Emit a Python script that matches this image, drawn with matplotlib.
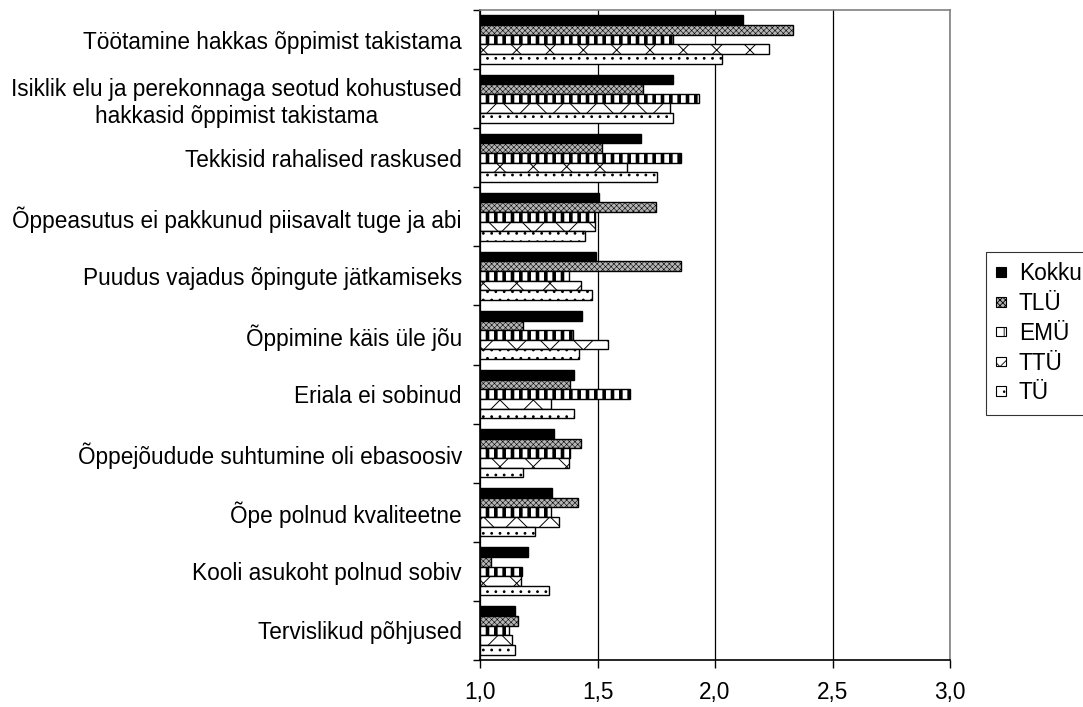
import numpy as np
import matplotlib
matplotlib.use("Agg")
import matplotlib.pyplot as plt
from matplotlib.patches import Patch

plt.rcParams["font.family"] = ["Liberation Sans", "DejaVu Sans"]
plt.rcParams["font.size"] = 16.3

categories = [
    "Töötamine hakkas õppimist takistama",
    "Isiklik elu ja perekonnaga seotud kohustused\nhakkasid õppimist takistama",
    "Tekkisid rahalised raskused",
    "Õppeasutus ei pakkunud piisavalt tuge ja abi",
    "Puudus vajadus õpingute jätkamiseks",
    "Õppimine käis üle jõu",
    "Eriala ei sobinud",
    "Õppejõudude suhtumine oli ebasoosiv",
    "Õpe polnud kvaliteetne",
    "Kooli asukoht polnud sobiv",
    "Tervislikud põhjused",
]
series = ["Kokku", "TLÜ", "EMÜ", "TTÜ", "TÜ"]

kokku = [2.12, 1.82, 1.685, 1.505, 1.495, 1.435, 1.40, 1.315, 1.305, 1.205, 1.15]
tlu = [2.33, 1.695, 1.52, 1.75, 1.855, 1.185, 1.385, 1.43, 1.415, 1.045, 1.16]
emu = [1.82, 1.93, 1.855, 1.49, 1.38, 1.395, 1.64, 1.385, 1.30, 1.18, 1.125]
ttu = [2.23, 1.81, 1.625, 1.49, 1.43, 1.545, 1.30, 1.38, 1.335, 1.175, 1.135]
tu = [2.03, 1.82, 1.755, 1.445, 1.475, 1.42, 1.40, 1.185, 1.235, 1.295, 1.15]
values = [kokku, tlu, emu, ttu, tu]

styles = {
    "Kokku": dict(facecolor="black", hatch=None, hlw=1.0),
    "TLÜ": dict(facecolor="#b4b4b4", hatch="xxxxxx", hlw=0.4),
    "EMÜ": dict(facecolor="white", hatch="||", hlw=2.6),
    "TTÜ": dict(facecolor="white", hatch="x", hlw=0.7),
    "TÜ": dict(facecolor="white", hatch="..", hlw=0.8),
}

base = 1.0
n = len(categories)
y = np.arange(n)
bh = 0.163

fig = plt.figure(figsize=(10.83, 7.07), dpi=100)
ax = fig.add_axes([480 / 1083, 1 - 660 / 707, 470 / 1083, 650 / 707])

for k, (name, vals) in enumerate(zip(series, values)):
    st = styles[name]
    offs = (k - 2) * bh
    plt.rcParams["hatch.linewidth"] = st["hlw"]
    bars = ax.barh(y + offs, np.array(vals) - base, left=base, height=bh,
                   color=st["facecolor"], edgecolor="black", linewidth=1.0,
                   hatch=st["hatch"], zorder=3)
    for b in bars:
        if hasattr(b, "set_hatch_linewidth"):
            b.set_hatch_linewidth(st["hlw"])

ax.set_xlim(1.0, 3.0)
ax.set_ylim(n - 0.5, -0.5)
ax.set_xticks([1.0, 1.5, 2.0, 2.5, 3.0])
ax.set_xticklabels(["1,0", "1,5", "2,0", "2,5", "3,0"])
ax.xaxis.grid(True, color="black", linewidth=0.9, zorder=0)
ax.tick_params(axis="x", direction="out", length=6, width=1, pad=9)

ax.set_yticks(y)
ax.set_yticklabels(categories, multialignment="center")
ax.set_yticks(np.arange(-0.5, n, 1.0), minor=True)
ax.tick_params(axis="y", which="major", length=0, pad=13)
ax.tick_params(axis="y", which="minor", length=5, width=1, direction="out")

for s in ["top", "right"]:
    ax.spines[s].set_color("#808080")
    ax.spines[s].set_linewidth(1.2)
for s in ["left", "bottom"]:
    ax.spines[s].set_color("black")
    ax.spines[s].set_linewidth(1.2)

handles = []
for name in series:
    st = styles[name]
    h = Patch(facecolor=st["facecolor"], edgecolor="black", hatch=st["hatch"], linewidth=0.8)
    handles.append(h)
plt.rcParams["hatch.linewidth"] = 0.6
leg = fig.legend(handles, series, loc="upper left",
                 bbox_to_anchor=(986 / 1083, 1 - 252 / 707),
                 fontsize=16.3, frameon=True, fancybox=False, edgecolor="black",
                 handlelength=0.45, handleheight=0.28, handletextpad=0.55,
                 labelspacing=0.3, borderpad=0.45, borderaxespad=0)
leg.get_frame().set_linewidth(0.8)

fig.savefig("out.png", dpi=100)
